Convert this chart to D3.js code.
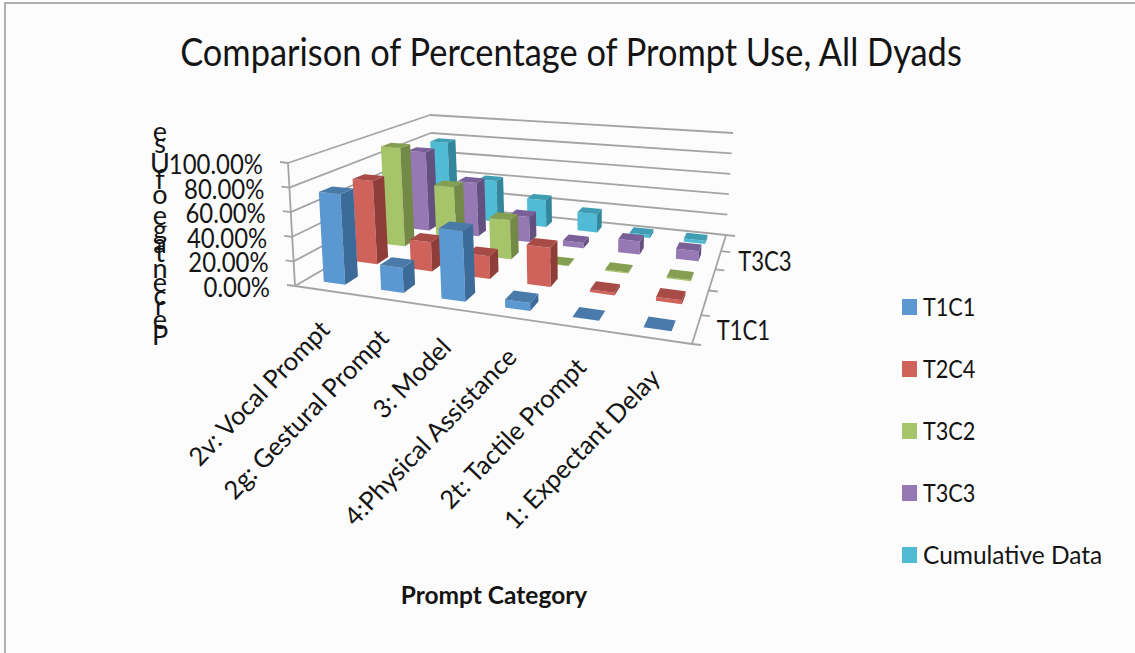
<!DOCTYPE html>
<html>
<head>
<meta charset="utf-8">
<script src="https://cdn.jsdelivr.net/npm/d3@7"></script>
<style>
  html, body { margin: 0; padding: 0; background: #fff; }
  text { font-family: Lato, "Open Sans", sans-serif; fill: #141414; }
</style>
</head>
<body>
<svg id="chart" width="1135" height="653"></svg>
<script>
const chartTitle = "Comparison of Percentage of Prompt Use, All Dyads";
const xTitle = "Prompt Category";
const yTitle = "Percentage of Use";
const categories = ["2v: Vocal Prompt", "2g: Gestural Prompt", "3: Model", "4:Physical Assistance", "2t: Tactile Prompt", "1: Expectant Delay"];
const seriesNames = ["T1C1", "T2C4", "T3C2", "T3C3", "Cumulative Data"];
const depthLabels = ["T1C1", "T3C3"];
const yTicks = [0, 20, 40, 60, 80, 100];

const t1c1 = [74, 20, 55, 6, 0, 0];
const t2c4 = [73, 25, 19, 32, 2, 3];
const t3c2 = [92, 60, 35, 0.5, 1, 1];
const t3c3 = [78, 52, 24, 5, 12, 9];
const cumulative = [78, 42, 27, 18, 3, 3];
const seriesValues = [t1c1, t2c4, t3c2, t3c3, cumulative];

// front, side and top face colours for each series
const frontColors = ["#5b97d0", "#cf625a", "#a6c46a", "#9678b5", "#4fbbd4"];
const sideColors = ["#3d6b99", "#8f3d38", "#728a45", "#63507f", "#33869b"];
const topColors = ["#4a7aaa", "#a84a45", "#859f52", "#7a6098", "#3f9db3"];

// Corners of the plot box on screen: floor and ceiling, listed
// front-left, front-right, back-right, back-left.
const floorQuad = [[295, 286], [692, 344], [726, 235], [434, 205]];
const ceilQuad = [[288, 163], [699, 200], [733, 133], [430, 115]];

// Solve the unit-square to quadrilateral homography.
function homography(q) {
  const [[x0, y0], [x1, y1], [x2, y2], [x3, y3]] = q;
  const dx1 = x1 - x2, dx2 = x3 - x2, sx = x0 - x1 + x2 - x3;
  const dy1 = y1 - y2, dy2 = y3 - y2, sy = y0 - y1 + y2 - y3;
  const den = dx1 * dy2 - dx2 * dy1;
  const g = (sx * dy2 - dx2 * sy) / den;
  const h = (dx1 * sy - sx * dy1) / den;
  const a = x1 - x0 + g * x1, b = x3 - x0 + h * x3;
  const d = y1 - y0 + g * y1, e = y3 - y0 + h * y3;
  return (u, v) => {
    const w = g * u + h * v + 1;
    return [(a * u + b * v + x0) / w, (d * u + e * v + y0) / w];
  };
}
const onFloor = homography(floorQuad);
const onCeil = homography(ceilQuad);

const xBand = d3.scaleBand().domain(categories).range([0, 1]).paddingInner(0.62).paddingOuter(0.31);
const zBand = d3.scaleBand().domain(seriesNames).range([0, 1]).paddingInner(0.62).paddingOuter(0.31);
const yScale = d3.scaleLinear().domain([0, 100]).range([0, 1]);

// Map (u across, v into depth, value) to the screen.
function project(u, v, value) {
  const b = onFloor(u, v), t = onCeil(u, v), k = yScale(value);
  return [b[0] + (t[0] - b[0]) * k, b[1] + (t[1] - b[1]) * k];
}
const path = pts => "M" + pts.map(p => p.map(n => n.toFixed(1)).join(",")).join("L") + "Z";

// Narrow a text to a share of its natural width, keeping its height.
function condense(selection, factor) {
  selection.each(function () {
    const n = d3.select(this);
    n.attr("textLength", this.getComputedTextLength() * factor).attr("lengthAdjust", "spacingAndGlyphs");
  });
}

const svg = d3.select("#chart");

svg.append("rect").attr("x", 5).attr("y", 3).attr("width", 1130).attr("height", 650)
  .attr("fill", "#fcfcfc");
svg.append("path").attr("d", "M5,653V3H1135").attr("fill", "none")
  .attr("stroke", "#b0b0b0").attr("stroke-width", 2);

svg.append("text").attr("x", 571).attr("y", 66).attr("text-anchor", "middle")
  .attr("font-size", 38).text(chartTitle).call(condense, 0.905);

// Walls and floor outline
const grid = svg.append("g").attr("fill", "none").attr("stroke", "#a4a4a4").attr("stroke-width", 1.8);
const seg = (a, b) => grid.append("path").attr("d", d3.line()([a, b]));
yTicks.forEach(t => {
  seg(project(0, 0, t), project(0, 1, t));
  seg(project(0, 1, t), project(1, 1, t));
  const p = project(0, 0, t);
  seg([p[0] - 8, p[1] - 1], p);
});
seg(project(0, 0, 0), project(0, 0, 100));
seg(project(0, 0, 0), project(1, 0, 0));
seg(project(1, 0, 0), project(1, 1, 0));
d3.range(6).forEach(i => {
  const p = project(1, i / 5, 0);
  seg(p, [p[0] + 9, p[1] + 1]);
});

// Bars, back row first and left to right so nearer faces cover farther ones
const bars = seriesNames.flatMap((s, si) => categories.map((c, ci) => ({
  s, si, c, ci, value: seriesValues[si][ci]
}))).sort((a, b) => b.si - a.si || a.ci - b.ci);

const barGroups = svg.append("g").selectAll("g").data(bars).join("g");
function faces(d) {
  const u0 = xBand(d.c), u1 = u0 + xBand.bandwidth();
  const v0 = zBand(d.s), v1 = v0 + zBand.bandwidth();
  return {
    front: [project(u0, v0, 0), project(u1, v0, 0), project(u1, v0, d.value), project(u0, v0, d.value)],
    side: [project(u1, v0, 0), project(u1, v1, 0), project(u1, v1, d.value), project(u1, v0, d.value)],
    top: [project(u0, v0, d.value), project(u1, v0, d.value), project(u1, v1, d.value), project(u0, v1, d.value)]
  };
}
barGroups.append("path").attr("d", d => path(faces(d).front)).attr("fill", d => frontColors[d.si]);
barGroups.append("path").attr("d", d => path(faces(d).side)).attr("fill", d => sideColors[d.si]);
barGroups.append("path").attr("d", d => path(faces(d).top)).attr("fill", d => topColors[d.si]);

// Value axis labels
svg.append("g").selectAll("text").data(yTicks).join("text")
  .attr("text-anchor", "end").attr("font-size", 26)
  .attr("x", d => project(0, 0, d)[0] - 25)
  .attr("y", d => project(0, 0, d)[1] + 11)
  .text(d => d.toFixed(2) + "%")
  .call(condense, 0.92);

// Upright letters stacked along the value axis
const letterScale = 1.0;
let cursor = 345;
const probe = svg.append("text").attr("font-size", 27);
const letters = Array.from(yTitle).map(ch => {
  probe.text(ch === " " ? "n" : ch);
  const w = probe.node().getComputedTextLength() * (ch === " " ? 0.45 : 1) * letterScale;
  const item = { ch, y: cursor };
  cursor -= w;
  return item;
});
probe.remove();
svg.append("g").selectAll("text").data(letters).join("text")
  .attr("x", 160).attr("y", d => d.y).attr("text-anchor", "middle").attr("font-size", 27)
  .text(d => d.ch);

// Category labels angled up to the front edge
svg.append("g").selectAll("text").data(categories).join("text")
  .attr("text-anchor", "end").attr("font-size", 25.5)
  .attr("transform", d => {
    const p = project(xBand(d) + xBand.bandwidth() / 2, 0, 0);
    return `translate(${p[0] + 8},${p[1] + 41}) rotate(-46)`;
  })
  .text(d => d);

// Series labels along the depth axis
svg.append("g").selectAll("text").data(depthLabels).join("text")
  .attr("font-size", 26)
  .attr("x", d => project(1, zBand(d) + zBand.bandwidth() / 2, 0)[0] + 20)
  .attr("y", d => project(1, zBand(d) + zBand.bandwidth() / 2, 0)[1] + 11)
  .text(d => d)
  .call(condense, 0.85);

svg.append("text").attr("x", 494).attr("y", 604).attr("text-anchor", "middle")
  .attr("font-size", 24.5).attr("font-weight", 700).text(xTitle);

// Legend
const legendY = d3.scalePoint().domain(seriesNames).range([307, 555]);
const legend = svg.append("g").selectAll("g").data(seriesNames).join("g");
legend.append("rect").attr("x", 902).attr("y", d => legendY(d) - 8).attr("width", 15).attr("height", 16)
  .attr("fill", (d, i) => frontColors[i]);
legend.append("text").attr("x", 923).attr("y", d => legendY(d) + 9).attr("font-size", 25.5).text(d => d)
  .each(function (d) {
    const factor = d.length > 4 ? 0.96 : 0.85;
    d3.select(this).attr("textLength", this.getComputedTextLength() * factor).attr("lengthAdjust", "spacingAndGlyphs");
  });
</script>
</body>
</html>
